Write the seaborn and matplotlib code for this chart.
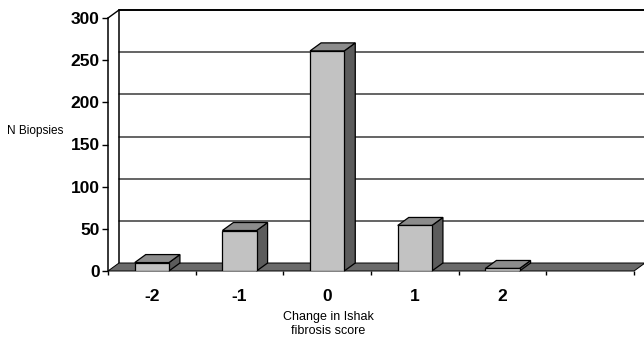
import seaborn as sns
import matplotlib.pyplot as plt
import pandas as pd
from matplotlib.patches import Polygon

# data
categories = ["-2", "-1", "0", "1", "2"]
n_biopsies = [10, 48, 261, 54, 3]
y_ticks = [0, 50, 100, 150, 200, 250, 300]
n_slots = 6  # excel leaves one empty slot on the right

sns.set_theme(style="white")
plt.rcParams["font.family"] = ["Liberation Sans", "DejaVu Sans"]
plt.rcParams["text.color"] = "black"
plt.rcParams["xtick.color"] = "black"
plt.rcParams["ytick.color"] = "black"

df = pd.DataFrame({"change": categories, "n": n_biopsies})

W, H = 644, 339
fig = plt.figure(figsize=(W / 100, H / 100), dpi=100)
ax = fig.add_axes([108 / W, 68 / H, 526 / W, 253 / H])

front_c, side_c, top_c, floor_c = "#c2c2c2", "#5c5c5c", "#8c8c8c", "#6a6a6a"

sns.barplot(data=df, x="change", y="n", order=categories, color=front_c,
            saturation=1, width=0.39, edgecolor="black", linewidth=0.9,
            ax=ax, zorder=3)

x0, x1 = -0.5, n_slots - 0.5
ax.set_xlim(x0, x1)
ax.set_ylim(0, 300)

# depth of the fake 3d effect, in data units
ddx = 11 * n_slots / 526
ddy = 8 * 300 / 253

# 3d faces for every bar
for p in list(ax.patches):
    x, w, h = p.get_x(), p.get_width(), p.get_height()
    side = [(x + w, 0), (x + w, h), (x + w + ddx, h + ddy), (x + w + ddx, ddy)]
    top = [(x, h), (x + w, h), (x + w + ddx, h + ddy), (x + ddx, h + ddy)]
    ax.add_patch(Polygon(side, closed=True, fc=side_c, ec="black", lw=0.9, zorder=2.5, clip_on=False))
    ax.add_patch(Polygon(top, closed=True, fc=top_c, ec="black", lw=0.9, zorder=2.5, clip_on=False))

# floor
floor = [(x0, 0), (x1, 0), (x1 + ddx, ddy), (x0 + ddx, ddy)]
ax.add_patch(Polygon(floor, closed=True, fc=floor_c, ec="black", lw=0.7, zorder=1, clip_on=False))

# back wall with gridlines
for v in y_ticks[1:]:
    lw = 1.4 if v == 300 else 1.1
    col = "black" if v == 300 else "#3a3a3a"
    ax.plot([x0 + ddx, x1 + ddx + 1], [v + ddy, v + ddy], color=col, lw=lw, zorder=0.5, clip_on=False)
ax.plot([x0 + ddx, x0 + ddx], [ddy, 300 + ddy], color="black", lw=1.1, zorder=0.5, clip_on=False)
ax.plot([x0, x0 + ddx], [300, 300 + ddy], color="black", lw=1.0, zorder=0.5, clip_on=False)

for s in ["top", "right", "bottom"]:
    ax.spines[s].set_visible(False)
ax.spines["left"].set_color("black")
ax.spines["left"].set_linewidth(1.1)

ax.set_yticks(y_ticks)
ax.set_yticklabels([str(v) for v in y_ticks], fontweight="bold", fontsize=12.5)
ax.tick_params(axis="y", left=True, direction="out", length=4, width=1, color="black", pad=2)

ax.set_xticks(range(len(categories)))
ax.set_xticklabels(categories, fontweight="bold", fontsize=12.5)
ax.set_xticks([i + 0.5 for i in range(-1, n_slots)], minor=True)
ax.tick_params(axis="x", which="major", bottom=False, length=0, pad=13)
ax.tick_params(axis="x", which="minor", bottom=True, direction="out", length=3, width=1, color="black")

ax.set_xlabel("")
ax.set_ylabel("")

fig.text(7 / W, 1 - 131 / H, "N Biopsies", fontsize=8.5, ha="left", va="center")
fig.text(328 / W, 1 - 317 / H, "Change in Ishak", fontsize=9, ha="center", va="center")
fig.text(328 / W, 1 - 331 / H, "fibrosis score", fontsize=9, ha="center", va="center")

fig.savefig("out.png", dpi=100)
